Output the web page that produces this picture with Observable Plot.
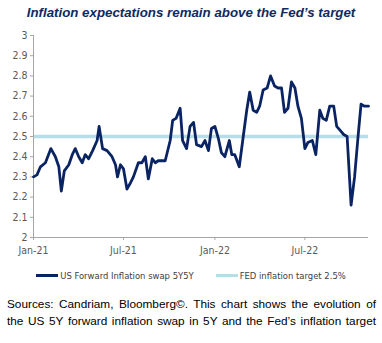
<!DOCTYPE html>
<html><head><meta charset="utf-8">
<script src="https://cdn.jsdelivr.net/npm/d3@7"></script>
<script src="https://cdn.jsdelivr.net/npm/@observablehq/plot@0.6"></script>
<style>
body{margin:0;background:#fff;}
#wrap{width:382px;height:343px;position:relative;overflow:hidden;}
#title{position:absolute;left:0;top:5px;width:382px;text-align:center;font:italic bold 13.3px "Liberation Sans",Arial,sans-serif;color:#0e2a63;}
#chart{position:absolute;left:0;top:0;}
#legend{position:absolute;left:0;top:270px;width:382px;display:flex;justify-content:center;align-items:center;font:9.4px "Liberation Sans Narrow","DejaVu Sans Condensed",sans-serif;color:#404040;}
.sw{display:inline-block;width:22px;height:3px;margin-right:2px;}
#caption{position:absolute;left:7px;top:296px;width:369px;font:11.8px "Liberation Sans",Arial,sans-serif;color:#000;text-align:justify;text-align-last:justify;line-height:17px;}
</style></head>
<body><div id="wrap">
<div id="title">Inflation expectations remain above the Fed’s target</div>
<div id="chart"></div>
<div id="legend"><span class="sw" style="background:#0a2463"></span><span>US Forward Inflation swap 5Y5Y</span><span style="width:22px"></span><span class="sw" style="background:#b7dde8"></span><span>FED inflation target 2.5%</span></div>
<div id="caption">Sources: Candriam, Bloomberg©. This chart shows the evolution of<br>the US 5Y forward inflation swap in 5Y and the Fed’s inflation target</div>
</div>
<script>
const dates = ["2021-01-01","2021-01-08","2021-01-15","2021-01-25","2021-02-05","2021-02-14","2021-02-21","2021-02-26","2021-03-04","2021-03-13","2021-03-20","2021-03-26","2021-04-02","2021-04-09","2021-04-15","2021-04-22","2021-04-30","2021-05-09","2021-05-13","2021-05-20","2021-05-29","2021-06-08","2021-06-15","2021-06-19","2021-06-25","2021-07-01","2021-07-08","2021-07-15","2021-07-21","2021-07-31","2021-08-07","2021-08-14","2021-08-20","2021-08-28","2021-09-03","2021-09-09","2021-09-23","2021-10-03","2021-10-08","2021-10-15","2021-10-23","2021-10-28","2021-11-05","2021-11-12","2021-11-19","2021-11-25","2021-12-05","2021-12-12","2021-12-19","2021-12-25","2022-01-01","2022-01-08","2022-01-14","2022-01-21","2022-01-30","2022-02-04","2022-02-10","2022-02-19","2022-02-27","2022-03-06","2022-03-12","2022-03-19","2022-03-26","2022-04-01","2022-04-08","2022-04-16","2022-04-23","2022-05-01","2022-05-08","2022-05-15","2022-05-21","2022-05-28","2022-06-04","2022-06-11","2022-06-17","2022-06-24","2022-07-01","2022-07-07","2022-07-16","2022-07-23","2022-07-31","2022-08-06","2022-08-13","2022-08-20","2022-08-28","2022-09-03","2022-09-10","2022-09-17","2022-09-24","2022-10-02","2022-10-09","2022-10-16","2022-10-22","2022-10-29","2022-11-06"];
const swap5y5y = [2.30,2.31,2.35,2.37,2.44,2.40,2.35,2.23,2.33,2.36,2.41,2.44,2.40,2.37,2.41,2.39,2.43,2.48,2.55,2.44,2.43,2.40,2.36,2.30,2.36,2.34,2.24,2.27,2.30,2.37,2.37,2.40,2.29,2.39,2.37,2.38,2.38,2.48,2.58,2.59,2.64,2.48,2.44,2.55,2.57,2.46,2.45,2.48,2.43,2.54,2.55,2.49,2.42,2.40,2.48,2.41,2.41,2.35,2.50,2.63,2.72,2.63,2.62,2.65,2.73,2.74,2.80,2.75,2.74,2.74,2.62,2.64,2.77,2.74,2.65,2.59,2.44,2.47,2.48,2.41,2.63,2.59,2.58,2.65,2.65,2.55,2.53,2.51,2.50,2.16,2.30,2.50,2.66,2.65,2.65];
const fedTarget = 2.5;
const yTicks = [2,2.1,2.2,2.3,2.4,2.5,2.6,2.7,2.8,2.9,3];
const xTicks = ["2021-01-01","2021-07-01","2022-01-01","2022-07-01"];
const xDomain = ["2021-01-01","2022-11-06"];

const data = dates.map((d,i)=>({date:new Date(d), value:swap5y5y[i]}));
const tickFont = '"Liberation Sans Narrow","DejaVu Sans Condensed",sans-serif';
const chart = Plot.plot({
  width:382, height:262,
  marginTop:35, marginBottom:25, marginLeft:33, marginRight:14,
  style:{fontFamily:tickFont, fontSize:"10.5px", color:"#595959", background:"transparent"},
  x:{type:"utc", domain:xDomain.map(d=>new Date(d))},
  y:{domain:[2,3]},
  marks:[
    Plot.ruleY([fedTarget],{stroke:"#b7dde8", strokeWidth:3.5}),
    Plot.ruleY([2],{stroke:"#a6a6a6", strokeWidth:1}),
    Plot.ruleX([new Date(xDomain[0])],{stroke:"#a6a6a6", strokeWidth:1}),
    Plot.axisY({ticks:yTicks, tickSize:3, tickPadding:3, stroke:"#a6a6a6", tickFormat:d=>String(+d.toFixed(1)), label:null, fill:"#595959"}),
    Plot.axisX({ticks:xTicks.map(d=>new Date(d)), tickSize:3, tickPadding:6, stroke:"#a6a6a6", tickFormat:d3.utcFormat("%b-%y"), label:null, fill:"#595959"}),
    Plot.lineY(data,{x:"date", y:"value", stroke:"#0a2463", strokeWidth:2.8, strokeLinejoin:"round"})
  ]
});
document.getElementById("chart").appendChild(chart);
</script>
</body></html>
